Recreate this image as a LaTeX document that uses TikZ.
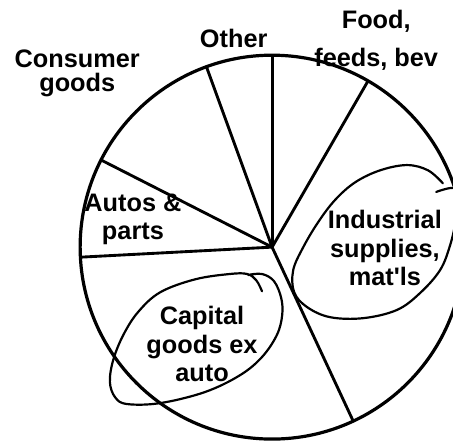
\documentclass[tikz,border=0pt]{standalone}
\usepackage{fontspec}
\setmainfont{Liberation Sans}

\begin{document}
\begin{tikzpicture}[lbl/.style={align=center,font=\fontsize{15}{17}\selectfont\bfseries},
    scrawl/.style={line width=1.3pt,line cap=round,line join=round}]
        \clip (-5.67,-4.15) rectangle (3.77,5.15);
        \coordinate (c) at (0,0);
        \draw[line width=1.9pt] (c) circle (4);
        \draw[line width=1.7pt] (c) -- (90:4);
        \draw[line width=1.7pt] (c) -- (110:4);
        \draw[line width=1.7pt] (c) -- (153:4);
        \draw[line width=1.7pt] (c) -- (183:4);
        \draw[line width=1.7pt] (c) -- (-65:4);
        \draw[line width=1.7pt] (c) -- (60:4);
        % hand drawn rings
        \draw[scrawl] plot[smooth,tension=0.6] coordinates {(3.56,1.33) (3.25,1.60) (2.81,1.71)
            (2.25,1.60) (1.73,1.35) (1.31,0.98) (0.96,0.52) (0.65,0.00) (0.44,-0.48) (0.46,-0.94)
            (0.73,-1.25) (1.21,-1.46) (1.90,-1.48) (2.60,-1.31) (3.08,-0.96) (3.50,-0.48)
            (3.71,0.04) (3.83,0.56) (3.88,0.98) (3.79,1.23) (3.42,1.15)};
        \draw[scrawl] plot[smooth,tension=0.6] coordinates {(-0.21,-0.92) (-0.33,-0.69) (-0.52,-0.56)
            (-0.88,-0.56) (-1.60,-0.67) (-2.33,-0.94) (-2.79,-1.35) (-3.10,-1.83) (-3.31,-2.35)
            (-3.38,-2.81) (-3.27,-3.13) (-3.02,-3.27) (-2.33,-3.25) (-1.40,-3.02) (-0.67,-2.67)
            (-0.21,-2.29) (0.10,-1.83) (0.21,-1.42) (0.19,-1.06) (0.04,-0.71) (-0.21,-0.56) (-0.50,-0.58)};
        \node[lbl] (consumer) at (-4.06,3.62) {Consumer\\[-2.5pt]goods};
        \node[lbl] (other) at (-0.80,4.35) {Other};
        \node[lbl] (food) at (2.17,4.31) {Food,\\[6pt]feeds, bev};
        \node[lbl] (autos) at (-2.90,0.58) {Autos \&\\parts};
        \node[lbl] (capital) at (-1.46,-2.02) {Capital\\goods ex\\auto};
        \node[lbl] (industrial) at (2.35,-0.02) {Industrial\\supplies,\\mat\textquotesingle ls};
      \end{tikzpicture}
\end{document}
